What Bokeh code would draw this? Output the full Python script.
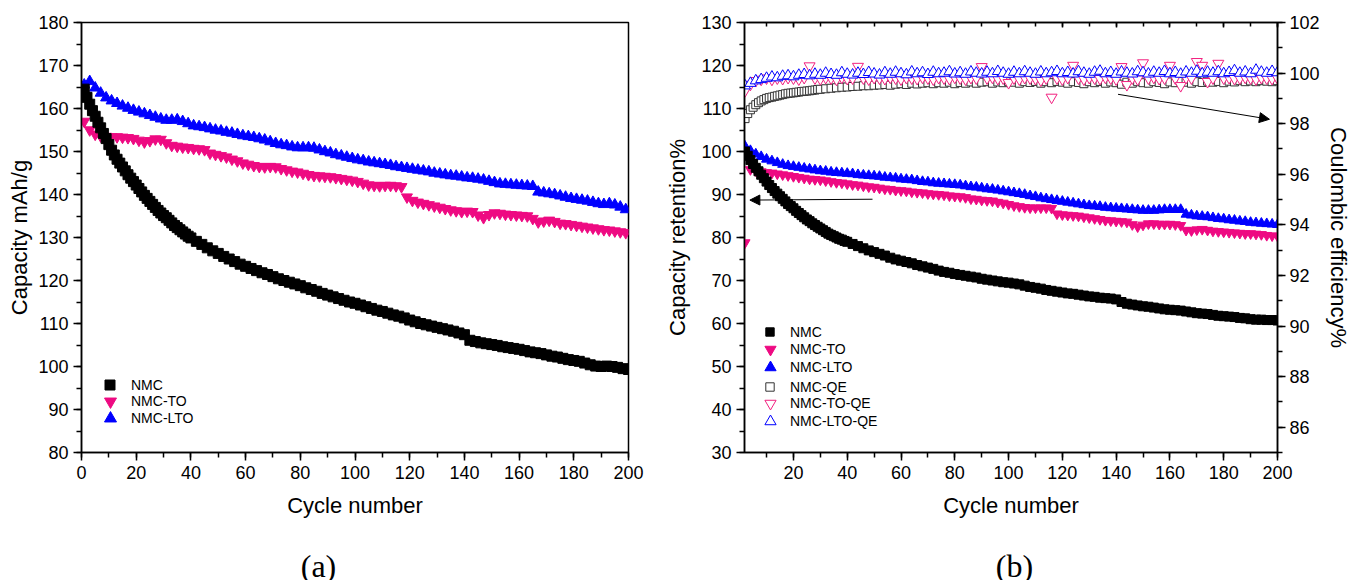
from bokeh.plotting import figure
from bokeh.models import (Range1d, LinearAxis, SingleIntervalTicker, Legend, LegendItem,
                          Arrow, NormalHead, Label, CustomLabelingPolicy)
from bokeh.layouts import row, column
from bokeh.embed import file_html
from bokeh.resources import INLINE

# ---------------- data ----------------
# panel (a): capacity, mAh/g
cyc_a_nmc = list(range(1, 41)) + list(range(42, 201, 2))
cap_nmc = [164.5, 162.6, 161.0, 159.5, 158.2, 156.8, 155.5, 154.2, 153.0, 151.6,
           150.3, 149.2, 148.2, 147.3, 146.4, 145.5, 144.6, 143.8, 143.0, 142.2,
           141.4, 140.6, 139.8, 139.1, 138.4, 137.7, 137.0, 136.3, 135.7, 135.1,
           134.6, 134.0, 133.4, 132.8, 132.3, 131.8, 131.3, 130.8, 130.3, 129.9,
           129.1, 128.4, 127.6, 126.9, 126.3, 125.6, 125.0, 124.4, 123.8, 123.3,
           122.8, 122.3, 121.8, 121.4, 120.9, 120.4, 120.0, 119.6, 119.2, 118.8,
           118.3, 117.9, 117.5, 117.0, 116.6, 116.2, 115.8, 115.4, 115.0, 114.7,
           114.3, 113.9, 113.5, 113.1, 112.8, 112.4, 112.0, 111.7, 111.3, 110.8,
           110.4, 110.0, 109.7, 109.4, 109.1, 108.8, 108.5, 108.2, 107.8, 107.4,
           106.1, 105.8, 105.5, 105.3, 105.1, 104.9, 104.6, 104.4, 104.2, 104.0,
           103.7, 103.4, 103.2, 103.0, 102.7, 102.4, 102.2, 101.9, 101.6, 101.4,
           101.2, 100.8, 100.4, 100.1, 100.0, 100.1, 100.0, 99.8, 99.5, 99.3]

cyc_a = list(range(1, 200, 2))
cap_to = [157.0, 155.0, 154.0, 153.6, 153.5, 153.4, 153.4, 153.3, 153.2, 153.0,
          152.6, 152.2, 152.5, 152.9, 152.8, 152.0, 151.4, 151.2, 151.0, 150.9,
          150.7, 150.6, 150.4, 149.6, 149.3, 149.0, 148.7, 148.2, 147.8, 147.3,
          147.0, 146.7, 146.5, 146.4, 146.5, 146.4, 146.0, 145.7, 145.4, 145.2,
          144.9, 144.6, 144.4, 144.3, 144.2, 144.1, 143.9, 143.7, 143.5, 143.3,
          143.0, 142.6, 142.2, 142.1, 142.0, 142.1, 142.1, 142.0, 141.8, 139.4,
          138.6, 138.2, 137.9, 137.6, 137.3, 137.0, 136.7, 136.4, 136.2, 136.0,
          136.1, 136.0, 135.2, 134.6, 135.3, 135.7, 135.6, 135.4, 135.3, 135.2,
          135.1, 135.0, 134.4, 133.6, 133.8, 134.0, 133.7, 133.3, 133.2, 133.0,
          132.8, 132.6, 132.4, 132.2, 132.0, 131.8, 131.7, 131.5, 131.3, 131.1]

cap_lto = [165.5, 166.3, 164.8, 163.6, 162.5, 161.8, 161.2, 160.6, 160.1, 159.6,
           159.2, 158.8, 158.4, 158.0, 157.6, 157.3, 157.3, 157.4, 157.0, 156.5,
           156.0, 155.8, 155.6, 155.3, 155.0, 154.8, 154.5, 154.3, 154.0, 153.7,
           153.5, 153.3, 153.0, 152.7, 152.3, 151.9, 151.6, 151.4, 151.1, 150.9,
           150.9, 150.9, 150.8, 150.4, 150.0, 149.7, 149.3, 149.0, 148.7, 148.4,
           148.1, 147.9, 147.6, 147.4, 147.2, 147.0, 146.8, 146.5, 146.3, 146.1,
           145.9, 145.7, 145.5, 145.3, 145.0, 144.8, 144.6, 144.4, 144.3, 144.1,
           143.9, 143.8, 143.6, 143.4, 143.1, 142.8, 142.5, 142.4, 142.3, 142.2,
           142.1, 142.0, 141.9, 140.6, 140.4, 140.2, 140.0, 139.7, 139.4, 139.1,
           138.9, 138.7, 138.5, 138.2, 137.9, 137.7, 137.9, 137.6, 137.1, 136.5]

# panel (b): capacity retention % (left axis) and coulombic efficiency % (right axis)
cyc_b_nmc = list(range(2, 41)) + list(range(42, 201, 2))
ret_nmc = [100.0, 99.0, 98.0, 97.1, 96.2, 95.4, 94.6, 93.8, 93.0, 92.2,
           91.5, 90.8, 90.2, 89.6, 89.0, 88.4, 87.8, 87.3, 86.8, 86.2,
           85.7, 85.2, 84.7, 84.2, 83.8, 83.3, 82.9, 82.5, 82.1, 81.7,
           81.3, 80.9, 80.6, 80.3, 80.0, 79.7, 79.5, 79.2, 79.0,
           78.5, 78.0, 77.5, 77.0, 76.6, 76.2, 75.8, 75.3, 74.9, 74.6,
           74.3, 74.0, 73.6, 73.3, 73.0, 72.7, 72.3, 72.0, 71.8, 71.5,
           71.3, 71.1, 70.9, 70.7, 70.4, 70.2, 70.0, 69.8, 69.6, 69.5,
           69.3, 69.1, 68.8, 68.5, 68.3, 68.1, 67.8, 67.6, 67.4, 67.2,
           67.0, 66.9, 66.7, 66.5, 66.3, 66.2, 66.0, 65.9, 65.8, 65.6,
           65.0, 64.6, 64.4, 64.2, 64.0, 63.9, 63.7, 63.5, 63.3, 63.2,
           63.1, 63.0, 62.8, 62.6, 62.4, 62.3, 62.2, 62.0, 61.8, 61.7,
           61.6, 61.5, 61.3, 61.2, 61.0, 60.9, 60.9, 60.8, 60.8, 60.7]

cyc_b = list(range(2, 201, 2))
ret_to = [78.8, 95.8, 95.5, 95.3, 95.1, 95.0, 94.8, 94.6, 94.4, 94.2,
          94.0, 93.8, 93.6, 93.5, 93.4, 93.2, 93.0, 92.8, 92.7, 92.5,
          92.3, 92.2, 92.0, 91.8, 91.7, 91.5, 91.3, 91.2, 91.0, 90.9,
          90.8, 90.6, 90.5, 90.4, 90.2, 90.1, 90.0, 89.9, 89.7, 89.6,
          89.5, 89.3, 89.0, 88.9, 88.7, 88.6, 88.5, 88.2, 88.0, 87.7,
          87.4, 87.2, 87.0, 86.9, 86.9, 86.9, 86.9, 86.8, 85.5, 85.3,
          85.2, 85.1, 85.0, 84.8, 84.6, 84.4, 84.2, 84.0, 83.9, 83.8,
          83.7, 83.6, 83.0, 82.5, 82.9, 83.2, 83.2, 83.1, 83.1, 83.1,
          83.0, 82.8, 81.7, 81.6, 81.8, 81.9, 81.7, 81.5, 81.4, 81.3,
          81.2, 81.1, 81.0, 80.9, 80.9, 80.8, 80.7, 80.5, 80.4, 80.3]

ret_lto = [101.2, 100.2, 99.4, 98.8, 98.2, 97.8, 97.4, 97.0, 96.7, 96.5,
           96.3, 96.1, 95.9, 95.7, 95.5, 95.4, 95.2, 95.1, 95.0, 94.9,
           94.8, 94.6, 94.5, 94.4, 94.3, 94.2, 94.0, 93.9, 93.8, 93.6,
           93.5, 93.4, 93.2, 93.0, 92.9, 92.7, 92.6, 92.5, 92.4, 92.3,
           92.2, 92.0, 91.8, 91.7, 91.5, 91.3, 91.2, 91.0, 90.8, 90.6,
           90.4, 90.2, 90.0, 89.7, 89.5, 89.2, 89.0, 88.8, 88.6, 88.4,
           88.2, 88.0, 87.8, 87.6, 87.4, 87.3, 87.2, 87.0, 86.9, 86.8,
           86.7, 86.6, 86.5, 86.4, 86.3, 86.3, 86.3, 86.4, 86.5, 86.5,
           86.5, 86.5, 85.4, 85.2, 85.0, 84.9, 84.8, 84.6, 84.4, 84.3,
           84.1, 84.0, 83.8, 83.7, 83.5, 83.4, 83.3, 83.2, 83.1, 83.0]

cyc_b_qnmc = list(range(2, 31)) + list(range(32, 201, 2))
qe_nmc = [98.2, 98.4, 98.55, 98.65, 98.75, 98.83, 98.9, 98.95, 99.0, 99.03,
          99.05, 99.08, 99.1, 99.13, 99.15, 99.18, 99.2, 99.21, 99.22, 99.24,
          99.25, 99.27, 99.28, 99.29, 99.3, 99.32, 99.33, 99.35, 99.36,
          99.38, 99.4, 99.42, 99.44, 99.45,
          99.47, 99.48, 99.5, 99.5, 99.52, 99.53, 99.55, 99.52, 99.56, 99.58,
          99.55, 99.6, 99.57, 99.6, 99.62, 99.58, 99.62, 99.6, 99.64, 99.58,
          99.63, 99.6, 99.65, 99.6, 99.64, 99.66, 99.6, 99.65, 99.62, 99.66,
          99.64, 99.6, 99.66, 99.63, 99.67, 99.6, 99.66, 99.62, 99.67, 99.64,
          99.6, 99.66, 99.63, 99.58, 99.66, 99.62, 99.67, 99.6, 99.65, 99.62,
          99.56, 99.64, 99.6, 99.66, 99.62, 99.6, 99.66, 99.63, 99.58, 99.65,
          99.62, 99.67, 99.64, 99.6, 99.66, 99.63, 99.68, 99.64, 99.67, 99.62,
          99.68, 99.65, 99.7, 99.66, 99.69, 99.66, 99.7, 99.68, 99.66, 99.7]

qe_to = [99.3, 99.55, 99.7, 99.75, 99.8, 99.75, 99.8, 99.78, 99.82, 99.8,
         99.76, 99.82, 100.28, 99.8, 99.77, 99.82, 99.8, 99.75, 99.83, 99.78,
         99.8, 100.26, 99.8, 99.76, 99.82, 99.8, 99.78, 99.83, 99.8, 99.76,
         99.82, 99.8, 99.78, 99.83, 99.8, 99.76, 99.82, 99.8, 99.78, 99.83,
         99.8, 99.76, 99.82, 99.8, 100.25, 99.8, 99.83, 99.78, 99.8, 99.62,
         99.8, 99.76, 99.82, 99.8, 99.78, 99.72, 99.8, 99.04, 99.8, 99.76,
         99.82, 100.3, 99.8, 99.76, 99.82, 99.8, 99.78, 99.83, 99.8, 99.76,
         100.25, 99.54, 99.8, 99.76, 100.4, 99.8, 99.83, 99.78, 99.8, 100.3,
         99.8, 99.5, 99.82, 99.8, 100.45, 100.3, 99.66, 99.8, 100.38, 99.8,
         99.82, 99.78, 99.8, 99.83, 99.8, 99.76, 99.82, 99.8, 99.78, 99.8]

qe_lto = [99.5, 99.6, 99.7, 99.75, 99.8, 99.85, 99.82, 99.88, 99.9, 99.86,
          99.92, 99.95, 99.9, 99.96, 99.92, 100.0, 99.95, 99.92, 100.02, 99.96,
          99.93, 100.0, 99.95, 100.03, 99.97, 99.93, 100.02, 99.96, 100.04, 99.98,
          99.94, 100.05, 99.98, 100.02, 99.95, 100.04, 99.98, 100.0, 100.06, 99.97,
          100.02, 99.96, 100.05, 100.0, 99.97, 100.04, 99.98, 100.07, 100.0, 99.96,
          100.04, 99.98, 100.06, 100.0, 99.96, 100.05, 99.98, 100.02, 100.07, 99.98,
          100.03, 99.97, 100.06, 100.0, 99.96, 100.04, 100.08, 99.98, 100.03, 99.96,
          100.05, 100.0, 99.97, 100.06, 100.02, 99.97, 100.04, 100.0, 100.07, 99.98,
          100.03, 99.96, 100.05, 100.0, 100.08, 99.98, 100.04, 100.0, 100.06, 99.98,
          100.03, 100.1, 100.0, 100.05, 99.98, 100.12, 100.04, 100.0, 100.07, 100.02]

labels_a = ["NMC", "NMC-TO", "NMC-LTO"]
labels_b = ["NMC", "NMC-TO", "NMC-LTO", "NMC-QE", "NMC-TO-QE", "NMC-LTO-QE"]
captions = ["(a)", "(b)"]

# arrows in panel (b): (x_start, y_start, x_end, y_end) on the retention scale
arrow_left = (49.4, 88.9, 3.8, 88.7)
arrow_right = (140.7, 113.3, 197.0, 107.5)

BLACK = "#000000"
PINK = "#EE0A82"
BLUE = "#0000FF"
PINK_OPEN = "#F2207F"
GREY_OPEN = "#333333"

FONT = "Liberation Sans"


def style_axis(ax, label_standoff=5, axis_label_standoff=6):
    ax.axis_line_color = "black"
    ax.axis_line_width = 1.5
    ax.major_tick_line_color = "black"
    ax.major_tick_line_width = 1.5
    ax.minor_tick_line_color = "black"
    ax.minor_tick_line_width = 1.5
    ax.major_tick_out = 8
    ax.major_tick_in = 0
    ax.minor_tick_out = 5
    ax.minor_tick_in = 0
    ax.major_label_text_font = FONT
    ax.major_label_text_font_size = "18px"
    ax.major_label_text_color = "black"
    ax.major_label_standoff = label_standoff
    ax.axis_label_text_font = FONT
    ax.axis_label_text_font_size = "22px"
    ax.axis_label_text_font_style = "normal"
    ax.axis_label_text_color = "black"
    ax.axis_label_standoff = axis_label_standoff


def clean(p):
    p.xgrid.grid_line_color = None
    p.ygrid.grid_line_color = None
    p.outline_line_color = "black"
    p.outline_line_width = 1.5
    p.background_fill_color = "white"
    p.border_fill_color = "white"


def n(xs, ys):
    m = min(len(xs), len(ys))
    return xs[:m], ys[:m]


def legend_row(p, label, renderer, x, y, glyph, standoff):
    p.add_layout(Legend(items=[LegendItem(label=label, renderers=[renderer])],
                        location=(x, y), orientation="vertical",
                        glyph_width=glyph, glyph_height=glyph, label_standoff=standoff,
                        label_height=16, padding=0, margin=0, spacing=0,
                        border_line_color=None, background_fill_alpha=0,
                        label_text_font=FONT, label_text_font_size="14px",
                        label_text_color="black"))


# ---------------- panel (a) ----------------
pA = figure(width=662, height=545, x_range=Range1d(0, 200), y_range=Range1d(80, 180),
            output_backend="svg", toolbar_location=None, title=None,
            min_border_left=81, min_border_right=34, min_border_top=22, min_border_bottom=93)
clean(pA)
pA.xaxis.ticker = SingleIntervalTicker(interval=20, num_minor_ticks=2)
pA.yaxis.ticker = SingleIntervalTicker(interval=10, num_minor_ticks=2)
pA.xaxis.axis_label = "Cycle number"
pA.yaxis.axis_label = "Capacity mAh/g"
style_axis(pA.xaxis[0], 5, 11)
style_axis(pA.yaxis[0], 5, 3)

rA_lto = pA.scatter(*n(cyc_a, cap_lto), marker="triangle", size=11,
                    fill_color=BLUE, line_color=BLUE)
rA_to = pA.scatter(*n(cyc_a, cap_to), marker="inverted_triangle", size=11,
                   fill_color=PINK, line_color=PINK)
rA_nmc = pA.scatter(*n(cyc_a_nmc, cap_nmc), marker="square", size=10,
                    fill_color=BLACK, line_color=BLACK)

legend_row(pA, labels_a[0], rA_nmc, 16, 55, 25, 9)
legend_row(pA, labels_a[1], rA_to, 14, 36, 30, 6)
legend_row(pA, labels_a[2], rA_lto, 14, 19, 30, 6)

# ---------------- panel (b) ----------------
pB = figure(width=691, height=545, x_range=Range1d(1.8, 200), y_range=Range1d(30, 130),
            output_backend="svg", toolbar_location=None, title=None,
            min_border_left=82, min_border_right=75, min_border_top=21, min_border_bottom=93)
clean(pB)
pB.extra_y_ranges = {"qe": Range1d(85, 102)}
pB.xaxis.ticker = SingleIntervalTicker(interval=20, num_minor_ticks=2)
pB.yaxis.ticker = SingleIntervalTicker(interval=10, num_minor_ticks=2)
pB.xaxis.axis_label = "Cycle number"
pB.yaxis.axis_label = "Capacity retention%"
style_axis(pB.xaxis[0], 5, 11)
style_axis(pB.yaxis[0], 5, 8)

top_axis = LinearAxis(ticker=SingleIntervalTicker(interval=20, num_minor_ticks=2))
style_axis(top_axis, 0, 0)
top_axis.major_tick_out = 0
top_axis.minor_tick_out = 0
top_axis.major_tick_in = 5
top_axis.minor_tick_in = 4
top_axis.major_label_text_font_size = "1px"
top_axis.major_label_policy = CustomLabelingPolicy(
    code="for (const i of indices) { indices.unset(i) }\nreturn indices")
pB.add_layout(top_axis, "above")

right_axis = LinearAxis(y_range_name="qe", axis_label="Coulombic efficiency%",
                        ticker=SingleIntervalTicker(interval=2, num_minor_ticks=2))
style_axis(right_axis, 4, 3)
pB.add_layout(right_axis, "right")

rB_lto = pB.scatter(*n(cyc_b, ret_lto), marker="triangle", size=10,
                    fill_color=BLUE, line_color=BLUE)
rB_to = pB.scatter(*n(cyc_b, ret_to), marker="inverted_triangle", size=10,
                   fill_color=PINK, line_color=PINK)
rB_nmc = pB.scatter(*n(cyc_b_nmc, ret_nmc), marker="square", size=9,
                    fill_color=BLACK, line_color=BLACK)
rB_qnmc = pB.scatter(*n(cyc_b_qnmc, qe_nmc), marker="square", size=8, y_range_name="qe",
                     fill_color="white", line_color=GREY_OPEN, line_width=1)
rB_qto = pB.scatter(*n(cyc_b, qe_to), marker="inverted_triangle", size=11, y_range_name="qe",
                    fill_color="white", line_color=PINK_OPEN, line_width=1)
rB_qlto = pB.scatter(*n(cyc_b, qe_lto), marker="triangle", size=11, y_range_name="qe",
                     fill_color="white", line_color=BLUE, line_width=1)

legend_row(pB, labels_b[0], rB_nmc, 15, 110, 21, 10)
legend_row(pB, labels_b[1], rB_to, 12, 89, 28, 6)
legend_row(pB, labels_b[2], rB_lto, 12, 71, 28, 6)
legend_row(pB, labels_b[3], rB_qnmc, 15, 55, 21, 10)
legend_row(pB, labels_b[4], rB_qto, 12, 35, 28, 6)
legend_row(pB, labels_b[5], rB_qlto, 12, 17, 28, 6)

for (xs, ys, xe, ye) in (arrow_left, arrow_right):
    pB.add_layout(Arrow(end=NormalHead(size=10, fill_color="black", line_color="black", line_width=1),
                        x_start=xs, y_start=ys, x_end=xe, y_end=ye,
                        line_color="black", line_width=1))

# ---------------- captions strip ----------------
pC = figure(width=1353, height=35, x_range=Range1d(0, 1353), y_range=Range1d(0, 35),
            output_backend="svg", toolbar_location=None, title=None,
            x_axis_location=None, y_axis_location=None, min_border=0)
pC.xgrid.grid_line_color = None
pC.ygrid.grid_line_color = None
pC.outline_line_color = None
caption_x = [318, 1014]
for cx, txt in zip(caption_x, captions):
    pC.add_layout(Label(x=cx, y=15, text=txt, text_align="center", text_baseline="alphabetic",
                        text_font="Liberation Serif", text_font_size="32px", text_color="black"))

layout = column(row(pA, pB), pC)
open("out.html", "w").write(file_html(layout, INLINE))
